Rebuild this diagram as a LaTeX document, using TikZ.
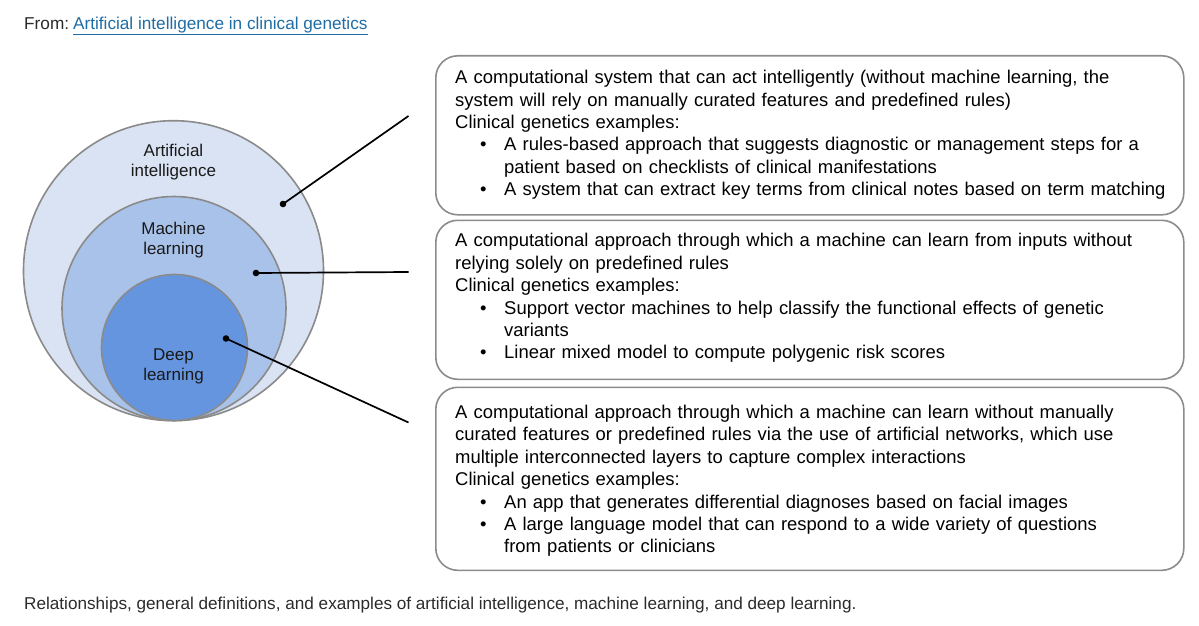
\documentclass[tikz,border=0pt]{standalone}
\usepackage{fontspec}
\setmainfont{Liberation Sans}
\definecolor{aiC}{HTML}{DAE3F3}
\definecolor{mlC}{HTML}{A9C2EA}
\definecolor{dlC}{HTML}{6695E0}
\definecolor{edgeC}{HTML}{8A8A8A}
\definecolor{boxC}{HTML}{8C8C8C}
\definecolor{linkC}{HTML}{1F6DA5}
\definecolor{capC}{HTML}{2B2B2B}
\newcommand\bfnt{\fontsize{18.45}{22.4}\selectfont}
\newcommand\cfnt{\fontsize{17}{20}\selectfont}
\newcommand\bitem[1]{\par\leftskip=49pt\noindent\llap{\textbullet\hspace{17.5pt}}#1\par}
\begin{document}
\begin{tikzpicture}[x=1pt,y=-1pt,
  ring/.style={circle, draw=edgeC, line width=1.6pt, inner sep=0pt},
  rbox/.style={draw=boxC, line width=1.6pt, rounded corners=22pt, anchor=north west, inner sep=0pt},
  btext/.style={anchor=north west, inner sep=0pt, text width=725pt, align=left, font=\bfnt},
  clabel/.style={align=center, inner sep=0pt, font=\cfnt, text=black!90},
  lead/.style={line width=1.7pt, black}]
\useasboundingbox (0,0) rectangle (1199,626);
\fill[white] (0,0) rectangle (1199,626);

% header
\node[anchor=west, inner sep=0pt, font=\fontsize{17.2}{20}\selectfont, text=capC] (from) at (24,26)
  {From:\hspace{4pt}\textcolor{linkC}{\underline{Artificial intelligence in clinical genetics}}};

% circles
\node[ring, fill=aiC, minimum size=300pt] (ai) at (173.5,270.7) {};
\node[ring, fill=mlC, minimum size=224pt] (ml) at (174,308.5) {};
\node[ring, fill=dlC, minimum size=146pt] (dl) at (174.5,347.5) {};
\node[clabel] (ailab) at (173.5,162) {Artificial\\intelligence};
\node[clabel] (mllab) at (173.5,240) {Machine\\learning};
\node[clabel] (dllab) at (173.5,366) {Deep\\learning};

% boxes
\node[rbox, minimum width=748pt, minimum height=159pt] (b1) at (435,55) {};
\node[rbox, minimum width=748pt, minimum height=159pt] (b2) at (435,219.5) {};
\node[rbox, minimum width=748pt, minimum height=183pt] (b3) at (435,386.5) {};

% leaders
\coordinate (d1) at (283,204);
\coordinate (d2) at (256,273);
\coordinate (d3) at (226,338.5);
\coordinate (e1) at (408.5,116);
\coordinate (e2) at (408.5,272);
\coordinate (e3) at (408.5,422.5);
\draw[lead] (d1) -- (e1);
\draw[lead] (d2) -- (e2);
\draw[lead] (d3) -- (e3);
\fill (d1) circle (3.3pt);
\fill (d2) circle (3.3pt);
\fill (d3) circle (3.3pt);

% box texts
\node[btext] (t1) at (455,67.8) {\strut A computational system that can act intelligently (without machine learning, the\\
system will rely on manually curated features and predefined rules)\\
Clinical genetics examples:
\bitem{A rules-based approach that suggests diagnostic or management steps for a\\ patient based on checklists of clinical manifestations}
\bitem{A system that can extract key terms from clinical notes based on term matching}};

\node[btext] (t2) at (455,231) {\strut A computational approach through which a machine can learn from inputs without\\
relying solely on predefined rules\\
Clinical genetics examples:
\bitem{Support vector machines to help classify the functional effects of genetic\\ variants}
\bitem{Linear mixed model to compute polygenic risk scores}};

\node[btext] (t3) at (455,402.7) {\strut A computational approach through which a machine can learn without manually\\
curated features or predefined rules via the use of artificial networks, which use\\
multiple interconnected layers to capture complex interactions\\
Clinical genetics examples:
\bitem{An app that generates differential diagnoses based on facial images}
\bitem{A large language model that can respond to a wide variety of questions\\ from patients or clinicians}};

% caption
\node[anchor=west, inner sep=0pt, font=\fontsize{17.15}{20}\selectfont, text=capC] (cap) at (24,605)
  {Relationships, general definitions, and examples of artificial intelligence, machine learning, and deep learning.};
\end{tikzpicture}
\end{document}
